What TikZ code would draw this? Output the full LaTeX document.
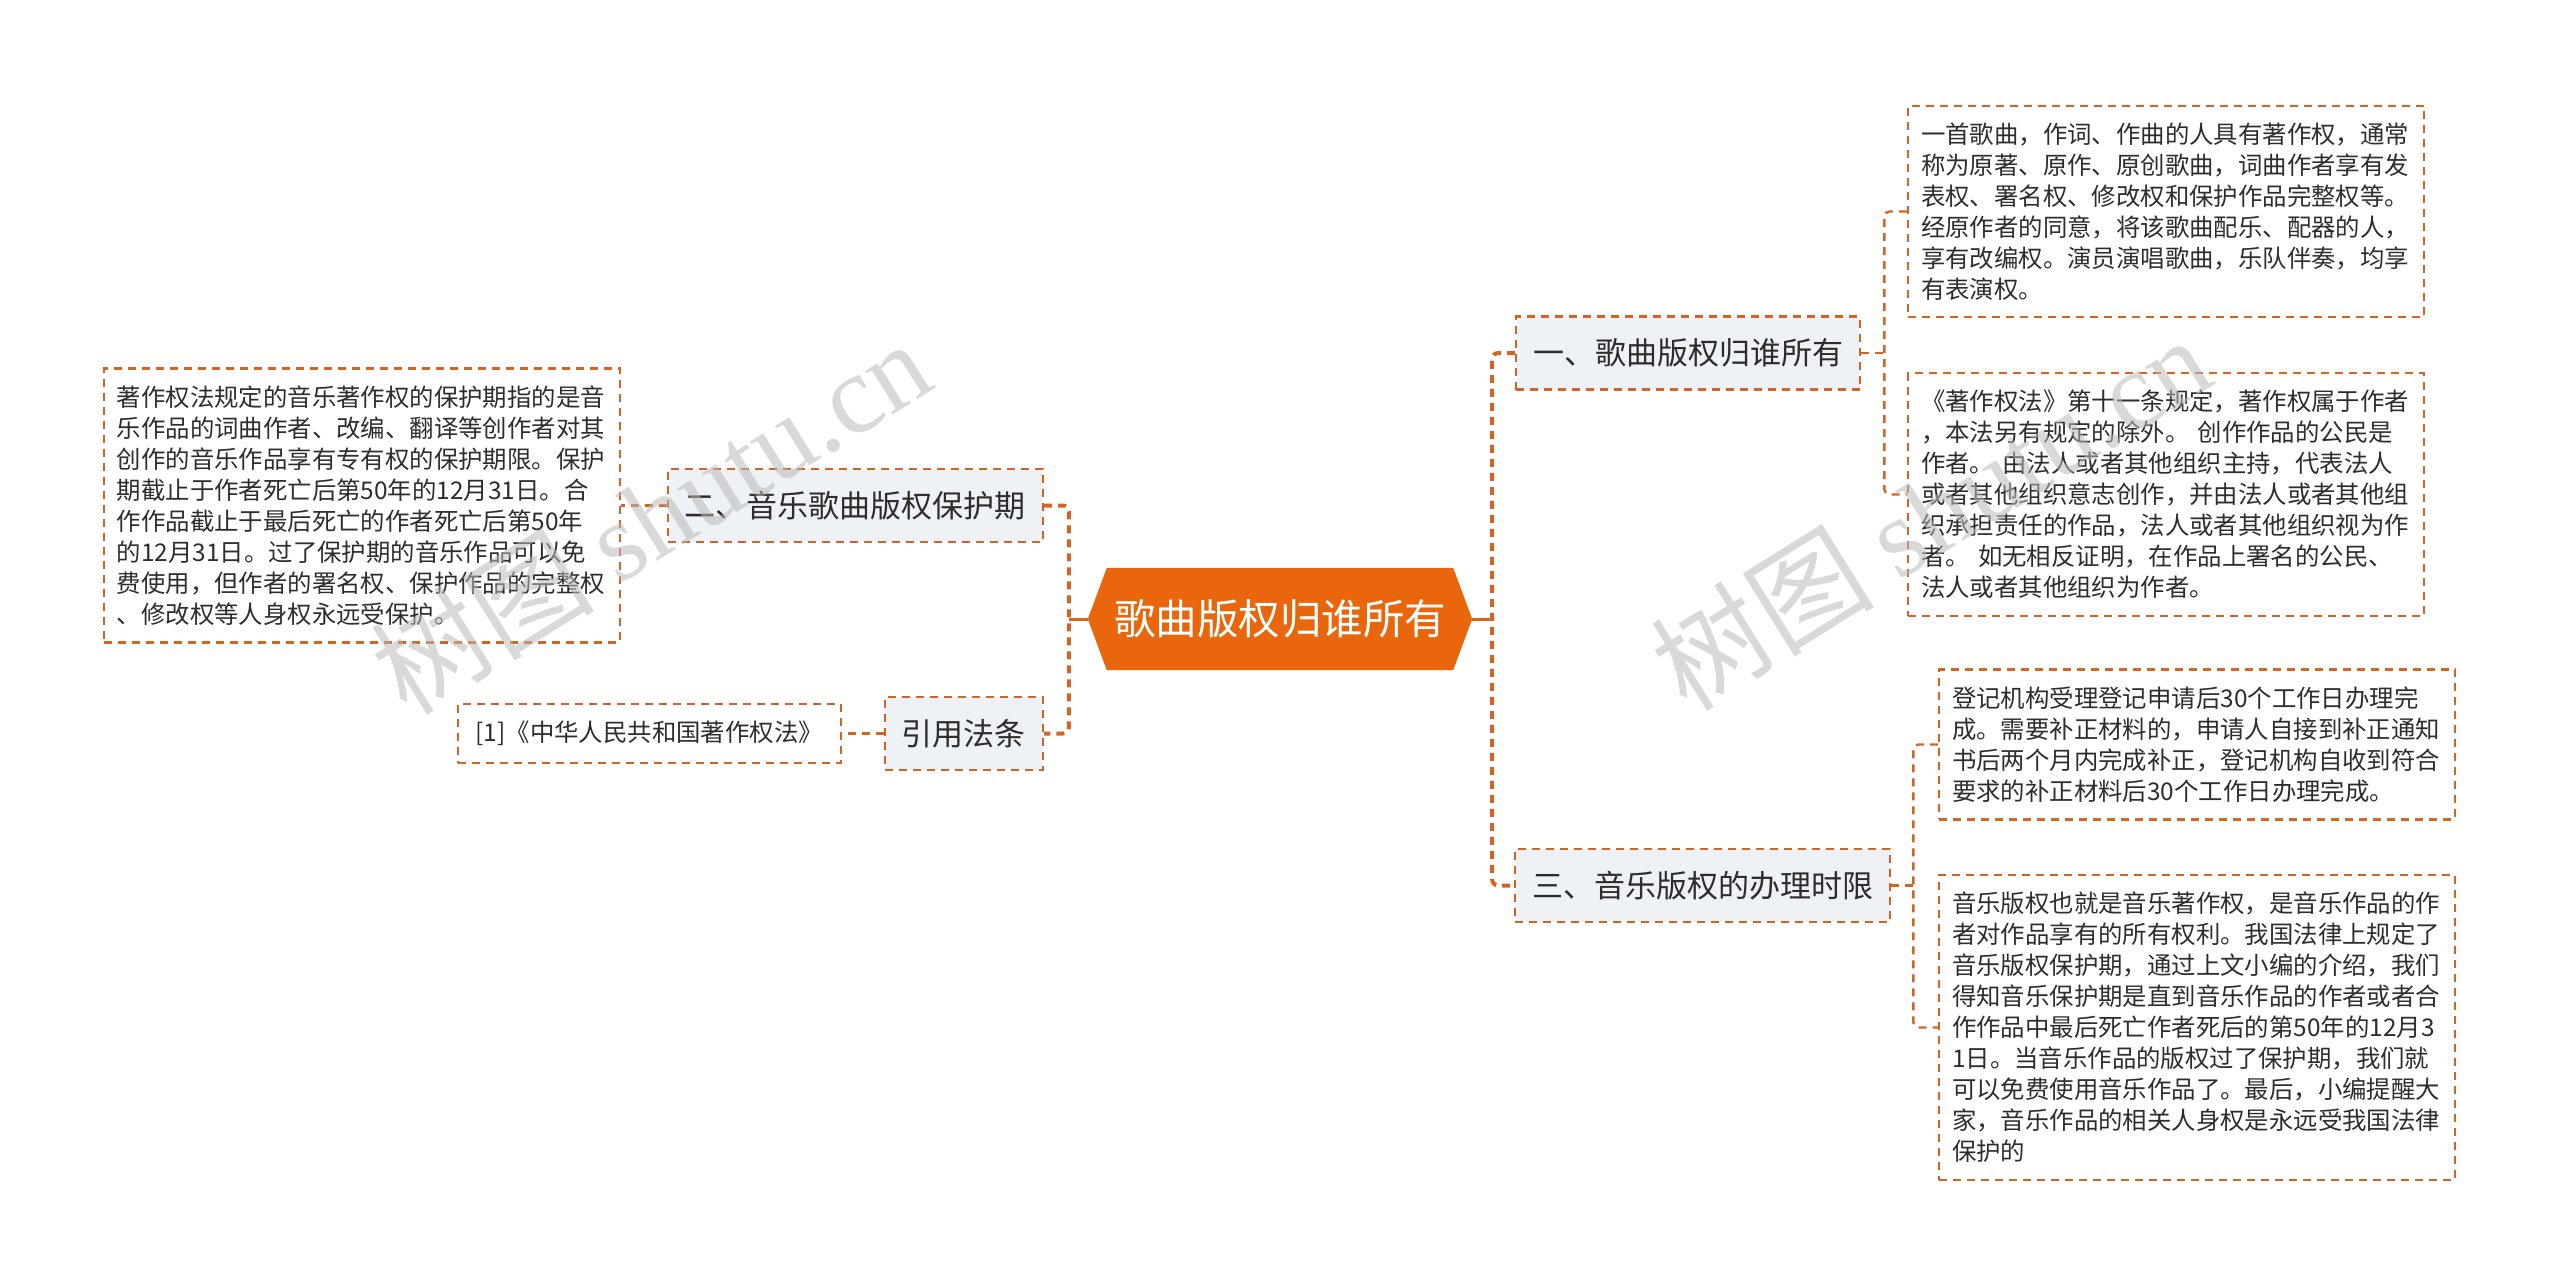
\documentclass[tikz,border=0pt]{standalone}
\usepackage{fontspec}
\setmainfont{Noto Sans CJK SC}
\newfontfamily\wmfont{Liberation Serif}
\usetikzlibrary{calc, positioning, backgrounds}

\definecolor{linec}{RGB}{211,101,36}
\definecolor{rootc}{RGB}{234,102,12}
\definecolor{topicfill}{RGB}{238,241,245}
\definecolor{txt}{RGB}{45,45,45}
\definecolor{wmc}{RGB}{185,185,185}

\begin{document}
\begin{tikzpicture}[x=1pt, y=-1pt,
  note/.style={draw=linec, line width=2.2pt, dash pattern=on 8pt off 6pt, text=txt,
    align=left, inner xsep=13pt, inner ysep=17pt, font=\fontsize{24.4}{31}\selectfont},
  leaf/.style={note, text width=490pt},
  topic/.style={draw=linec, fill=topicfill, line width=2.4pt, dash pattern=on 8pt off 6pt,
    text=txt, inner xsep=17pt, minimum height=73pt, font=\fontsize{31}{37}\selectfont},
  link/.style={draw=linec, line width=2.4pt, dash pattern=on 8pt off 6pt},
  trunk/.style={draw=linec, line width=4pt, dash pattern=on 8pt off 6pt, rounded corners=6pt},
  stem/.style={draw=linec, line width=3pt},
  wm/.style={text=wmc, opacity=0.55, rotate=32, font=\fontsize{112}{112}\selectfont}]
\useasboundingbox (0,0) rectangle (2560,1287);

% centre
\node[text=white, font=\fontsize{41.5}{48}\selectfont, minimum width=384pt,
  minimum height=102pt, inner sep=0pt] (R) at (1280,619) {歌曲版权归谁所有};
\begin{scope}[on background layer]
\fill[rootc] (R.west) -- ($(R.north west)+(19,0)$) -- ($(R.north east)+(-19,0)$)
  -- (R.east) -- ($(R.south east)+(-19,0)$) -- ($(R.south west)+(19,0)$) -- cycle;
\end{scope}

% topics
\node[topic, anchor=west] (T1) at (1515,353) {一、歌曲版权归谁所有};
\node[topic, anchor=west] (T3) at (1514,885.5) {三、音乐版权的办理时限};
\node[topic, anchor=east] (T2) at (1044,505.5) {二、音乐歌曲版权保护期};
\node[topic, anchor=east] (T4) at (1044,733.5) {引用法条};

% leaves
\node[leaf, anchor=west] (A1) at (1907,211.5) {一首歌曲，作词、作曲的人具有著作权，通常\\称为原著、原作、原创歌曲，词曲作者享有发\\表权、署名权、修改权和保护作品完整权等。\\经原作者的同意，将该歌曲配乐、配器的人，\\享有改编权。演员演唱歌曲，乐队伴奏，均享\\有表演权。};
\node[leaf, anchor=west] (A2) at (1907,494.5) {《著作权法》第十一条规定，著作权属于作者\\，本法另有规定的除外。 创作作品的公民是\\作者。 由法人或者其他组织主持，代表法人\\或者其他组织意志创作，并由法人或者其他组\\织承担责任的作品，法人或者其他组织视为作\\者。 如无相反证明，在作品上署名的公民、\\法人或者其他组织为作者。};
\node[leaf, anchor=west] (C1) at (1938,744.5) {登记机构受理登记申请后30个工作日办理完\\成。需要补正材料的，申请人自接到补正通知\\书后两个月内完成补正，登记机构自收到符合\\要求的补正材料后30个工作日办理完成。};
\node[leaf, anchor=west] (C2) at (1938,1027.5) {音乐版权也就是音乐著作权，是音乐作品的作\\者对作品享有的所有权利。我国法律上规定了\\音乐版权保护期，通过上文小编的介绍，我们\\得知音乐保护期是直到音乐作品的作者或者合\\作作品中最后死亡作者死后的第50年的12月3\\1日。当音乐作品的版权过了保护期，我们就\\可以免费使用音乐作品了。最后，小编提醒大\\家，音乐作品的相关人身权是永远受我国法律\\保护的};
\node[leaf, anchor=east] (B1) at (621,505.5) {著作权法规定的音乐著作权的保护期指的是音\\乐作品的词曲作者、改编、翻译等创作者对其\\创作的音乐作品享有专有权的保护期限。保护\\期截止于作者死亡后第50年的12月31日。合\\作作品截止于最后死亡的作者死亡后第50年\\的12月31日。过了保护期的音乐作品可以免\\费使用，但作者的署名权、保护作品的完整权\\、修改权等人身权永远受保护。};
\node[note, anchor=east, inner xsep=18pt] (F1) at (842,733.5) {[1]《中华人民共和国著作权法》};

% connectors
\coordinate (RJ) at ($(R.east)+(20,0)$);
\coordinate (LJ) at ($(R.west)+(-19,0)$);
\draw[stem] (R.east) -- (RJ);
\draw[stem] (R.west) -- (LJ);
\draw[trunk] (T1.west) -| (RJ) |- (T3.west);
\draw[trunk] (T2.east) -| (LJ) |- (T4.east);
\draw[link] (T1.east) -- ++(23,0);
\draw[link, rounded corners=5pt] (A1.west) -| ($(T1.east)+(23,0)$) |- (A2.west);
\draw[link] (T3.east) -- ++(22,0);
\draw[link, rounded corners=5pt] (C1.west) -| ($(T3.east)+(22,0)$) |- (C2.west);
\draw[link] (T2.west) -- (B1.east);
\draw[link] (T4.west) -- (F1.east);

% watermarks
\node[wm] (W1) at (650,516) {树图 {\wmfont shutu.cn}};
\node[wm] (W2) at (1930,512) {树图 {\wmfont shutu.cn}};
\end{tikzpicture}
\end{document}
